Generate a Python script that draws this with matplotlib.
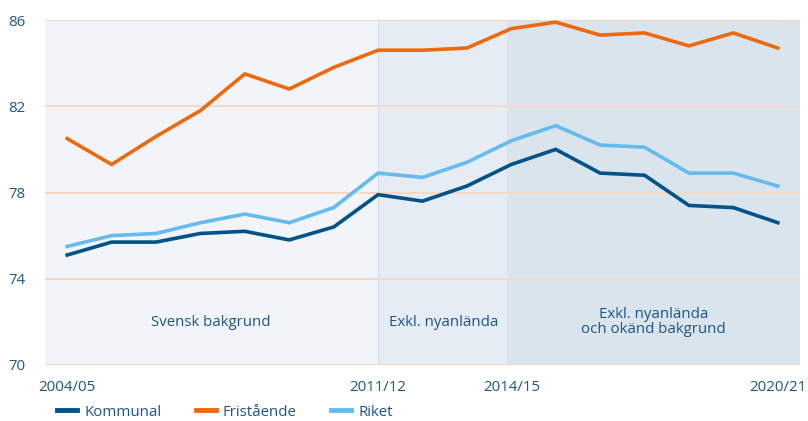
import matplotlib
matplotlib.use("Agg")
import matplotlib.pyplot as plt
import numpy as np

plt.rcParams['font.family'] = ['Open Sans', 'DejaVu Sans']

# data
years = ['2004/05', '2005/06', '2006/07', '2007/08', '2008/09', '2009/10',
         '2010/11', '2011/12', '2012/13', '2013/14', '2014/15', '2015/16',
         '2016/17', '2017/18', '2018/19', '2019/20', '2020/21']
kommunal = [75.1, 75.7, 75.7, 76.1, 76.2, 75.8, 76.4, 77.9, 77.6, 78.3,
            79.3, 80.0, 78.9, 78.8, 77.4, 77.3, 76.6]
fristaende = [80.5, 79.3, 80.6, 81.8, 83.5, 82.8, 83.8, 84.6, 84.6, 84.7,
              85.6, 85.9, 85.3, 85.4, 84.8, 85.4, 84.7]
riket = [75.5, 76.0, 76.1, 76.6, 77.0, 76.6, 77.3, 78.9, 78.7, 79.4,
         80.4, 81.1, 80.2, 80.1, 78.9, 78.9, 78.3]
shown_years = ['2004/05', '2011/12', '2014/15', '2020/21']
period_labels = ['Svensk bakgrund', 'Exkl. nyanlända', 'Exkl. nyanlända\noch okänd bakgrund']

text_col = '#1f5486'
grid_col = '#f6d9c6'
fs = 10.8

fig = plt.figure(figsize=(8.08, 4.21), dpi=100)
ax = fig.add_axes([45 / 808, 56 / 421, 755 / 808, 345 / 421])

x = np.arange(len(years))
i_a = years.index('2011/12')
i_b = years.index('2014/15') - 0.1

# background periods
ax.axvspan(-0.5, i_a, color='#f1f5f9', lw=0, zorder=0)
ax.axvspan(i_a, i_b, color='#e5ecf3', lw=0, zorder=0)
ax.axvspan(i_b, 16.5, color='#dae4ed', lw=0, zorder=0)
ax.axvline(i_a, color='#d9dfe6', lw=0.8, zorder=0.5)

for yv in [70, 74, 78, 82, 86]:
    ax.axhline(yv, color=grid_col, lw=1.4, zorder=1)

ax.plot(x, kommunal, color='#00538a', lw=2.6, label='Kommunal', zorder=3,
        solid_joinstyle='miter')
ax.plot(x, fristaende, color='#ec6a0f', lw=2.6, label='Fristående', zorder=3,
        solid_joinstyle='miter')
ax.plot(x, riket, color='#66bbec', lw=2.6, label='Riket', zorder=2,
        solid_joinstyle='miter')

ax.text(3.24, 71.98, period_labels[0], ha='center', va='center',
        fontsize=fs, color=text_col)
ax.text(8.47, 71.98, period_labels[1], ha='center', va='center',
        fontsize=fs, color=text_col)
ax.text(13.2, 71.98, period_labels[2], ha='center', va='center',
        fontsize=fs, color=text_col, linespacing=1.0)

ax.set_xlim(-0.5, 16.5)
ax.set_ylim(70, 86)
ax.set_yticks([70, 74, 78, 82, 86])
ax.set_xticks([years.index(s) for s in shown_years])
ax.set_xticklabels(shown_years)
ax.tick_params(axis='both', length=0, labelsize=fs, labelcolor=text_col)
ax.tick_params(axis='x', pad=11)
ax.tick_params(axis='y', pad=14)
for s in ax.spines.values():
    s.set_visible(False)

handles, labels = ax.get_legend_handles_labels()
leg = fig.legend(handles, labels, loc='center left', ncol=3, frameon=False,
                 bbox_to_anchor=(57 / 808, 1 - 412 / 421), borderpad=0,
                 borderaxespad=0, handlelength=1.35, handletextpad=0.45,
                 columnspacing=2.3, fontsize=fs)
for t in leg.get_texts():
    t.set_color(text_col)
for h in leg.get_lines():
    h.set_linewidth(3.5)

fig.savefig('out.png', dpi=100)
